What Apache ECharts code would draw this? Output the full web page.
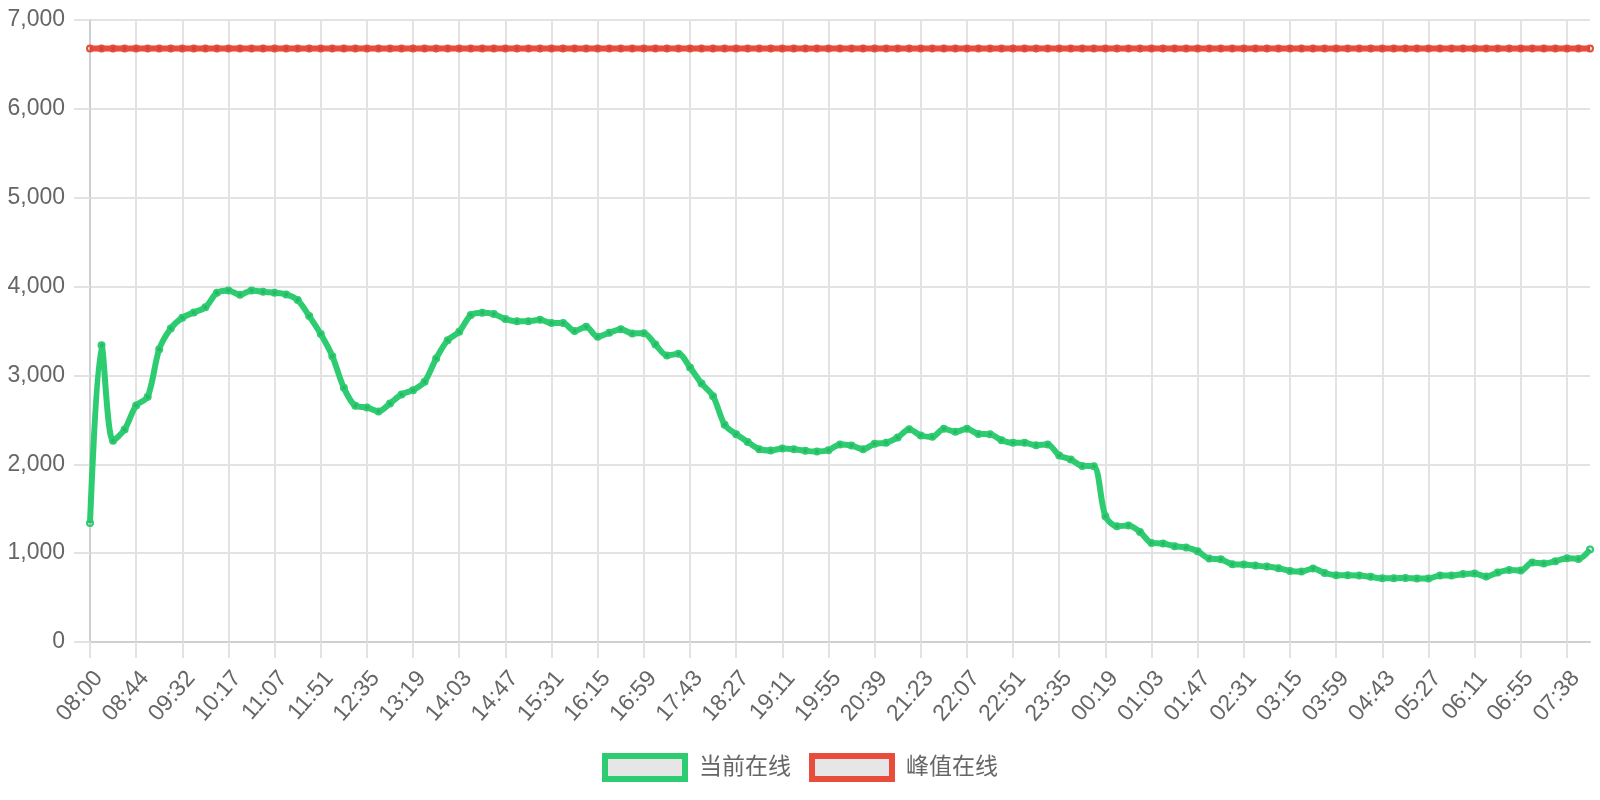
<!DOCTYPE html>
<html>
<head>
<meta charset="utf-8">
<script src="https://cdn.jsdelivr.net/npm/echarts@6/dist/echarts.min.js"></script>
<style>
html,body{margin:0;padding:0;background:#fff;}
#chart{width:1600px;height:800px;}
</style>
</head>
<body>
<div id="chart"></div>
<script>
const times = [
  '08:00','08:11','08:22','08:33','08:44','08:56','09:08','09:20',
  '09:32','09:43','09:54','10:06','10:17','10:30','10:42','10:55',
  '11:07','11:18','11:29','11:40','11:51','12:02','12:13','12:24',
  '12:35','12:46','12:57','13:08','13:19','13:30','13:41','13:52',
  '14:03','14:14','14:25','14:36','14:47','14:58','15:09','15:20',
  '15:31','15:42','15:53','16:04','16:15','16:26','16:37','16:48',
  '16:59','17:10','17:21','17:32','17:43','17:54','18:05','18:16',
  '18:27','18:38','18:49','19:00','19:11','19:22','19:33','19:44',
  '19:55','20:06','20:17','20:28','20:39','20:50','21:01','21:12',
  '21:23','21:34','21:45','21:56','22:07','22:18','22:29','22:40',
  '22:51','23:02','23:13','23:24','23:35','23:46','23:57','00:08',
  '00:19','00:30','00:41','00:52','01:03','01:14','01:25','01:36',
  '01:47','01:58','02:09','02:20','02:31','02:42','02:53','03:04',
  '03:15','03:26','03:37','03:48','03:59','04:10','04:21','04:32',
  '04:43','04:54','05:05','05:16','05:27','05:38','05:49','06:00',
  '06:11','06:22','06:33','06:44','06:55','07:06','07:17','07:27',
  '07:38','07:49','07:59'
];

const currentOnline = [
  1340,3341,2264,2392,2662,2759,3296,3529,3649,3709,
  3766,3930,3957,3908,3957,3941,3930,3912,3848,3668,
  3465,3217,2860,2658,2640,2594,2685,2786,2834,2928,
  3191,3397,3491,3679,3705,3690,3634,3611,3611,3626,
  3589,3589,3499,3547,3435,3480,3521,3473,3476,3349,
  3225,3243,3090,2910,2767,2445,2339,2252,2170,2155,
  2178,2170,2151,2144,2159,2223,2211,2170,2230,2241,
  2302,2395,2324,2309,2399,2365,2399,2342,2339,2271,
  2241,2241,2215,2223,2100,2054,1982,1979,1416,1303,
  1311,1239,1115,1108,1078,1063,1021,939,931,875,
  871,860,849,830,800,793,826,777,751,751,
  748,733,717,717,721,714,714,748,748,766,
  770,736,781,811,804,894,883,909,943,935,
  1040
];

const peakOnline = [
  6678,6678,6678,6678,6678,6678,6678,6678,6678,6678,
  6678,6678,6678,6678,6678,6678,6678,6678,6678,6678,
  6678,6678,6678,6678,6678,6678,6678,6678,6678,6678,
  6678,6678,6678,6678,6678,6678,6678,6678,6678,6678,
  6678,6678,6678,6678,6678,6678,6678,6678,6678,6678,
  6678,6678,6678,6678,6678,6678,6678,6678,6678,6678,
  6678,6678,6678,6678,6678,6678,6678,6678,6678,6678,
  6678,6678,6678,6678,6678,6678,6678,6678,6678,6678,
  6678,6678,6678,6678,6678,6678,6678,6678,6678,6678,
  6678,6678,6678,6678,6678,6678,6678,6678,6678,6678,
  6678,6678,6678,6678,6678,6678,6678,6678,6678,6678,
  6678,6678,6678,6678,6678,6678,6678,6678,6678,6678,
  6678,6678,6678,6678,6678,6678,6678,6678,6678,6678,
  6678
];

const seriesNames = ['当前在线', '峰值在线'];
const seriesColors = ['#2ecc71', '#e74c3c'];
const yTicks = { min: 0, max: 7000, interval: 1000 };

const FONT = '"Liberation Sans", "Noto Sans CJK SC", sans-serif';
const GRID = '#e3e3e3';

const chart = echarts.init(document.getElementById('chart'));
chart.setOption({
  animation: false,
  backgroundColor: '#fff',
  textStyle: { fontFamily: FONT },
  grid: { left: 90, right: 10, top: 20, bottom: 158, containLabel: false },
  legend: {
    left: 'center',
    top: 748,
    icon: 'rect',
    itemWidth: 80,
    itemHeight: 23,
    itemGap: 18,
    textStyle: { color: '#666', fontSize: 23, fontFamily: FONT, padding: [0, 0, 0, 9] },
    data: seriesNames.map((n, i) => ({
      name: n,
      itemStyle: { color: '#e6e6e6', borderColor: seriesColors[i], borderWidth: 6 }
    }))
  },
  xAxis: {
    type: 'category',
    data: times,
    boundaryGap: false,
    axisLine: { show: true, lineStyle: { color: '#cfcfcf', width: 2 } },
    axisTick: { show: true, interval: 3, length: 16, lineStyle: { color: GRID, width: 2 } },
    splitLine: { show: true, interval: 3, lineStyle: { color: GRID, width: 2 } },
    axisLabel: {
      interval: 3, rotate: 49, margin: 25,
      align: 'right', verticalAlign: 'top',
      color: '#666', fontSize: 23, fontFamily: FONT
    }
  },
  yAxis: {
    type: 'value',
    min: yTicks.min, max: yTicks.max, interval: yTicks.interval,
    axisLine: { show: true, lineStyle: { color: '#cfcfcf', width: 2 } },
    axisTick: { show: true, length: 16, lineStyle: { color: GRID, width: 2 } },
    splitLine: { show: true, lineStyle: { color: GRID, width: 2 } },
    axisLabel: {
      margin: 25, color: '#666', fontSize: 23, fontFamily: FONT,
      formatter: v => v.toLocaleString('en-US')
    }
  },
  series: [
    {
      name: seriesNames[0], type: 'line', data: currentOnline,
      smooth: 0.3, symbol: 'circle', symbolSize: 6, showSymbol: true,
      lineStyle: { color: seriesColors[0], width: 6 },
      itemStyle: { color: 'rgba(0,0,0,0.1)', borderColor: seriesColors[0], borderWidth: 2 },
      z: 3
    },
    {
      name: seriesNames[1], type: 'line', data: peakOnline,
      smooth: 0.3, symbol: 'circle', symbolSize: 6, showSymbol: true,
      lineStyle: { color: seriesColors[1], width: 6 },
      itemStyle: { color: 'rgba(0,0,0,0.1)', borderColor: seriesColors[1], borderWidth: 2 },
      z: 2
    }
  ]
});
</script>
</body>
</html>
